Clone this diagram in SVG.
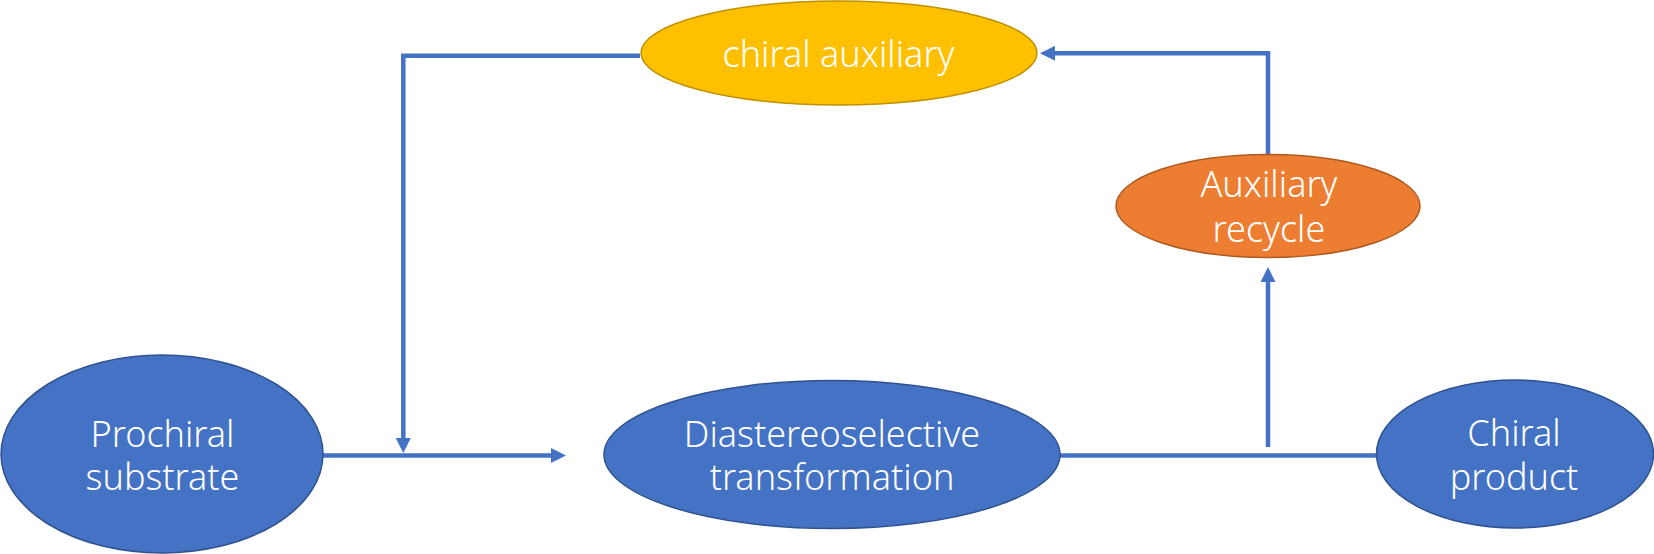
<svg xmlns="http://www.w3.org/2000/svg" width="1654" height="554" viewBox="0 0 1654 554">
<defs>
<style>
.blue{fill:#4472C4;stroke:#2F528F;stroke-width:1.5}
.yellow{fill:#FFC000;stroke:#BF9000;stroke-width:1.5}
.orange{fill:#ED7D31;stroke:#AE5A21;stroke-width:1.5}
.lbl{fill:#FFFFFF;font-family:"Noto Sans","Open Sans","Liberation Sans",sans-serif;font-weight:300;font-size:36px;text-anchor:middle}
.conn{fill:none;stroke:#4472C4;stroke-width:4.5}
</style>
<marker id="ah" viewBox="0 0 15 15" refX="0" refY="7.5" markerWidth="15" markerHeight="15" markerUnits="userSpaceOnUse" orient="auto">
<path d="M0,0 L15,7.5 L0,15 Z" fill="#4472C4"/>
</marker>
</defs>
<g id="connectors">
<path class="conn" d="M307,455.5 H551" marker-end="url(#ah)"/>
<path class="conn" d="M640,55.8 H403.3 V438" marker-end="url(#ah)"/>
<path class="conn" d="M1268,155 V53.3 H1055" marker-end="url(#ah)"/>
<path class="conn" d="M1268,447 V282" marker-end="url(#ah)"/>
<path class="conn" d="M1060,455.5 H1377"/>
</g>
<g id="prochiral">
<ellipse class="blue" cx="162" cy="454" rx="161" ry="99"/>
<text class="lbl" x="162.5" y="446.7">Prochiral<tspan x="162.5" dy="43.3">substrate</tspan></text>
</g>
<g id="diastereoselective">
<ellipse class="blue" cx="832" cy="454.5" rx="228" ry="74"/>
<text class="lbl" x="832" y="446.7">Diastereoselective<tspan x="832" dy="43.3">transformation</tspan></text>
</g>
<g id="chiral-product">
<ellipse class="blue" cx="1515" cy="454" rx="138.5" ry="74"/>
<text class="lbl" x="1514" y="446">Chiral<tspan x="1514" dy="44">product</tspan></text>
</g>
<g id="chiral-auxiliary">
<ellipse class="yellow" cx="839" cy="53" rx="198" ry="52"/>
<text class="lbl" x="838.5" y="66.7">chiral auxiliary</text>
</g>
<g id="auxiliary-recycle">
<ellipse class="orange" cx="1268" cy="206" rx="152" ry="51.5"/>
<text class="lbl" x="1269" y="197">Auxiliary<tspan x="1269" dy="44.7">recycle</tspan></text>
</g>
</svg>
